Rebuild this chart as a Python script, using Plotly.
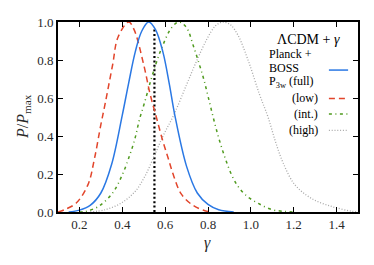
import plotly.graph_objects as go

# ---- data ----
full_x = [0.15, 0.20, 0.25, 0.30, 0.35, 0.40, 0.43, 0.46, 0.49, 0.523, 0.555, 0.59, 0.62, 0.645, 0.70, 0.75, 0.80, 0.85, 0.92]
full_y = [0.0, 0.01, 0.035, 0.10, 0.25, 0.51, 0.68, 0.84, 0.95, 1.0, 0.96, 0.84, 0.67, 0.51, 0.24, 0.10, 0.04, 0.012, 0.0]

low_x = [0.10, 0.13, 0.185, 0.24, 0.27, 0.30, 0.32, 0.355, 0.38, 0.43, 0.455, 0.50, 0.53, 0.56, 0.59, 0.615, 0.64, 0.675, 0.73, 0.785, 0.82]
low_y = [0.0, 0.012, 0.047, 0.144, 0.28, 0.46, 0.57, 0.775, 0.92, 1.0, 0.96, 0.775, 0.62, 0.495, 0.37, 0.28, 0.19, 0.095, 0.035, 0.007, 0.0]

int_x = [0.20, 0.23, 0.29, 0.355, 0.40, 0.435, 0.46, 0.48, 0.505, 0.535, 0.56, 0.59, 0.63, 0.665, 0.70, 0.73, 0.76, 0.78, 0.80, 0.825, 0.85, 0.88, 0.91, 0.94, 0.98, 1.035, 1.10, 1.16, 1.20]
int_y = [0.0, 0.003, 0.03, 0.10, 0.196, 0.30, 0.39, 0.486, 0.58, 0.70, 0.79, 0.88, 0.97, 1.0, 0.97, 0.88, 0.775, 0.70, 0.61, 0.495, 0.39, 0.284, 0.196, 0.135, 0.085, 0.045, 0.012, 0.003, 0.0]

high_x = [0.25, 0.32, 0.395, 0.46, 0.505, 0.545, 0.59, 0.64, 0.70, 0.745, 0.795, 0.835, 0.87, 0.905, 0.94, 0.99, 1.04, 1.08, 1.115, 1.15, 1.205, 1.285, 1.38, 1.47, 1.50]
high_y = [0.0, 0.012, 0.047, 0.108, 0.187, 0.284, 0.40, 0.51, 0.67, 0.79, 0.91, 0.98, 1.0, 0.985, 0.93, 0.79, 0.62, 0.50, 0.37, 0.26, 0.144, 0.07, 0.028, 0.004, 0.0]

gr_gamma = 0.55
gr_line_y = [0.0, 0.96]

x_ticks = [0.2, 0.4, 0.6, 0.8, 1.0, 1.2, 1.4]
y_ticks = [0.0, 0.2, 0.4, 0.6, 0.8, 1.0]

BLUE = "#2a78e4"
RED = "#e2452b"
GREEN = "#4f9a1e"
GREY = "#a8a8a8"
FONT = "Liberation Serif, DejaVu Serif, serif"

fig = go.Figure()
fig.add_trace(go.Scatter(x=[gr_gamma, gr_gamma], y=gr_line_y, mode="lines",
                         line=dict(color="black", width=2.2, dash="2px,2.4px")))
fig.add_trace(go.Scatter(x=high_x, y=high_y, mode="lines", line_shape="spline",
                         line=dict(color=GREY, width=1.3, dash="1px,1.8px")))
fig.add_trace(go.Scatter(x=int_x, y=int_y, mode="lines", line_shape="spline",
                         line=dict(color=GREEN, width=1.5, dash="3px,3.5px,1px,3.5px")))
fig.add_trace(go.Scatter(x=low_x, y=low_y, mode="lines", line_shape="spline",
                         line=dict(color=RED, width=1.5, dash="6px,4px")))
fig.add_trace(go.Scatter(x=full_x, y=full_y, mode="lines", line_shape="spline",
                         line=dict(color=BLUE, width=1.5)))

axis_common = dict(showgrid=False, zeroline=False, showline=True, linecolor="black",
                   linewidth=1.6, mirror="ticks", ticks="inside", ticklen=5,
                   tickcolor="black", tickwidth=1, automargin=False,
                   tickfont=dict(family=FONT, size=13, color="#2a2a2a"))
fig.update_xaxes(range=[0.1, 1.5], tickvals=x_ticks,
                 ticktext=[f"{v:.1f}" for v in x_ticks], **axis_common)
fig.update_yaxes(range=[0.0, 1.0], tickvals=y_ticks,
                 ticktext=[f"{v:.1f}" for v in y_ticks], **axis_common)

# plot area in window pixels: x 58..358, y 22..212 (page body adds 8px offset)
ann = []
ann.append(dict(x=(207 - 58) / 300, y=(212 - 243) / 190, xref="paper", yref="paper",
                text="<i>γ</i>", showarrow=False,
                font=dict(family=FONT, size=16, color="#2a2a2a"),
                xanchor="center", yanchor="middle"))
ann.append(dict(x=(23 - 58) / 300, y=(212 - 117) / 190, xref="paper", yref="paper",
                text="<i>P</i>/<i>P</i><sub>max</sub>", showarrow=False, textangle=-90,
                font=dict(family=FONT, size=16, color="#2a2a2a"),
                xanchor="center", yanchor="middle"))

tf = dict(family=FONT, size=12, color="black")
ann.append(dict(x=0.835, y=0.91, xref="paper", yref="paper", text="ΛCDM + <i>γ</i>",
                showarrow=False, font=dict(family=FONT, size=14, color="black"),
                xanchor="center", yanchor="middle"))
for txt, yy in [("Planck +", 0.832), ("BOSS", 0.758), ("P<sub>3w</sub> (full)", 0.684)]:
    ann.append(dict(x=0.698, y=yy, xref="paper", yref="paper", text=txt, showarrow=False,
                    font=tf, xanchor="left", yanchor="middle"))
for txt, yy in [("(low)", 0.6), ("(int.)", 0.516), ("(high)", 0.432)]:
    ann.append(dict(x=0.872, y=yy, xref="paper", yref="paper", text=txt, showarrow=False,
                    font=tf, xanchor="right", yanchor="middle"))
shapes = []
for col, dash, w, yy in [(BLUE, "solid", 1.5, 0.747), (RED, "6px,4px", 1.5, 0.598),
                         (GREEN, "3px,3.5px,1px,3.5px", 1.5, 0.516), (GREY, "1px,1.8px", 1.3, 0.43)]:
    shapes.append(dict(type="line", xref="paper", yref="paper", x0=0.903, x1=0.967, y0=yy, y1=yy,
                       line=dict(color=col, width=w, dash=dash)))

fig.update_layout(width=366, height=257,
                  margin=dict(l=50, r=16, t=14, b=53, autoexpand=False),
                  paper_bgcolor="white", plot_bgcolor="white", showlegend=False,
                  annotations=ann, shapes=shapes)
fig.write_html("out.html")
